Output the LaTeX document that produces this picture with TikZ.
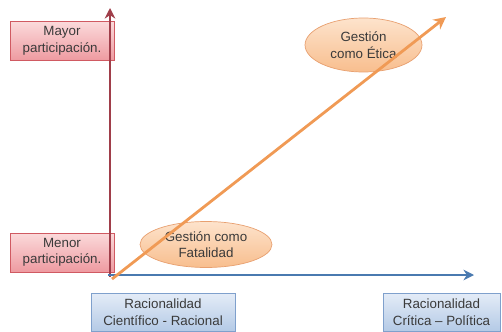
\documentclass[tikz,border=0pt]{standalone}
\usepackage{fontspec}
\setmainfont{Liberation Sans}
\usetikzlibrary{arrows.meta,shapes.geometric}
\definecolor{axisred}{HTML}{A03E4A}
\definecolor{axisblue}{HTML}{4A7AB0}
\definecolor{linkorange}{HTML}{F09A55}
\definecolor{pinktop}{HTML}{FBDADB}
\definecolor{pinkbot}{HTML}{EE9AA0}
\definecolor{pinkline}{HTML}{D05A62}
\definecolor{bluetop}{HTML}{E4ECF7}
\definecolor{bluebot}{HTML}{B4CAE6}
\definecolor{blueline}{HTML}{7FA0CC}
\definecolor{peachtop}{HTML}{FDE3CC}
\definecolor{peachbot}{HTML}{F8BE8E}
\definecolor{peachline}{HTML}{E8A070}
\definecolor{labelgray}{HTML}{3A3A3A}
\begin{document}
\begin{tikzpicture}[x=0.02cm,y=-0.02cm,
  every node/.style={font=\fontsize{7.6}{9.4}\selectfont, text=labelgray, align=center},
  levelbox/.style={draw=pinkline, top color=pinktop, bottom color=pinkbot, minimum width=2.08cm, minimum height=0.78cm, inner sep=1pt},
  ratiobox/.style={draw=blueline, top color=bluetop, bottom color=bluebot, minimum height=0.76cm, inner sep=1pt},
  stage/.style={ellipse, draw=peachline, top color=peachtop, bottom color=peachbot, inner sep=0pt}]
\useasboundingbox (0,0) rectangle (502,331);

% cajas
\node[levelbox] (mayor) at (62,41) {Mayor\\participación.};
\node[levelbox] (menor) at (62,252.5) {Menor\\participación.};
\node[ratiobox, minimum width=2.88cm] (cientifico) at (163,312) {Racionalidad\\Científico - Racional};
\node[ratiobox, minimum width=2.34cm] (critica) at (441.5,312) {Racionalidad\\Crítica -- Política};

% ejes
\coordinate (o) at (110,277);
\coordinate (ytop) at (110,8);
\coordinate (xo) at (108,275);
\coordinate (xend) at (474,275);
\draw[axisred,line width=1.3pt,-{Stealth[length=6pt,width=6pt]}] (o) -- (ytop);
\draw[axisblue,line width=1.3pt,-{Stealth[length=6pt,width=6pt]}] (xo) -- (xend);

% etapas
\node[stage, minimum width=2.64cm, minimum height=0.92cm] (fatal) at (206,244.5) {Gestión como\\Fatalidad};
\node[stage, minimum width=2.34cm, minimum height=1.08cm] (etica) at (363.5,45) {Gestión\\como Ética};

\coordinate (start) at (112,279);
\coordinate (tip) at (446,17);
\draw[linkorange,line width=1.6pt,-{Stealth[length=7pt,width=7pt]}] (start) -- (tip);
\end{tikzpicture}
\end{document}
